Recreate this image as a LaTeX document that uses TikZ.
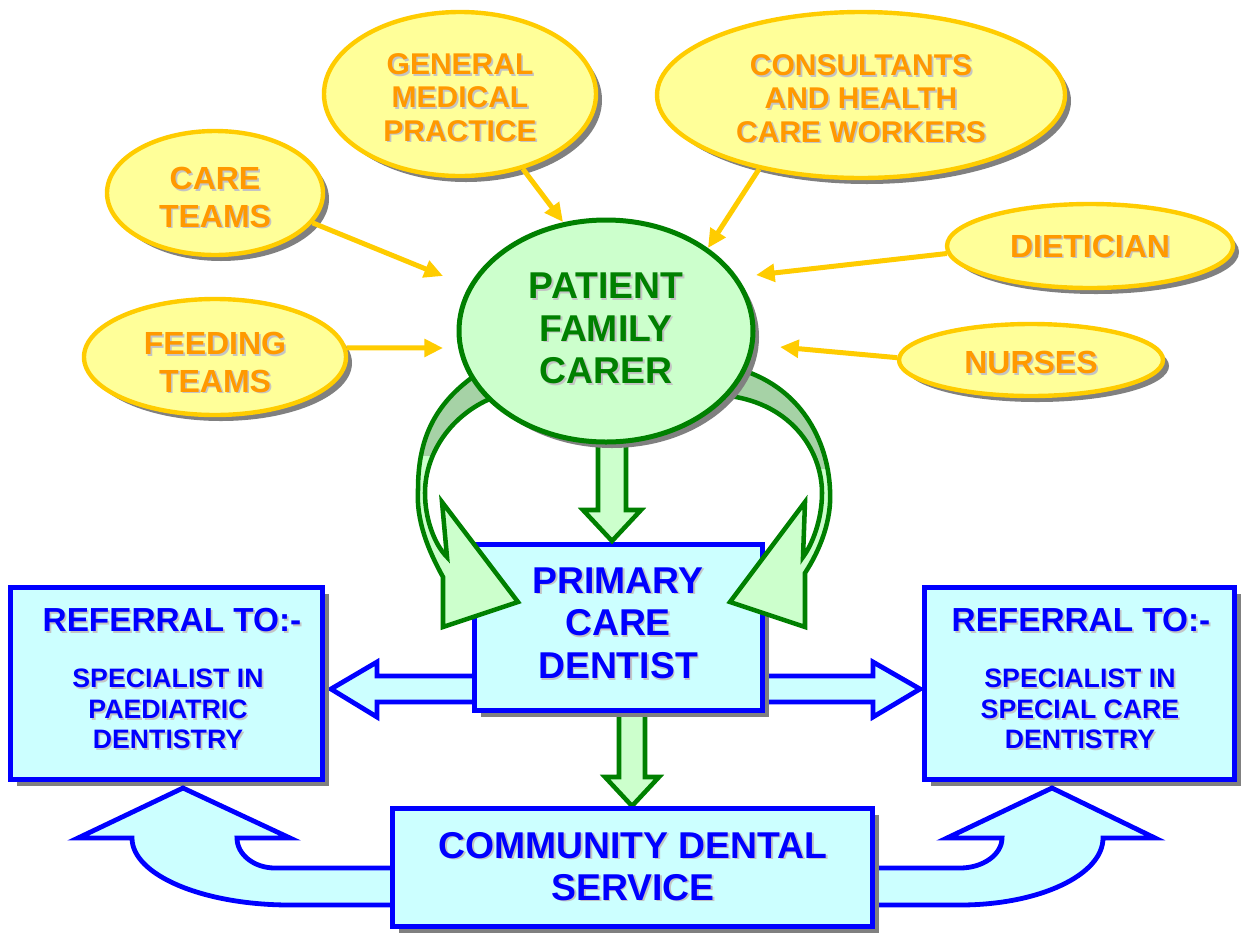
\documentclass[tikz,border=0pt]{standalone}
\usepackage{fontspec}
\setmainfont{Liberation Sans}
\usetikzlibrary{shapes.geometric,shadows,arrows.meta,calc}
\definecolor{yfill}{HTML}{FFFF99}
\definecolor{yline}{HTML}{FFCC00}
\definecolor{otext}{HTML}{FF9900}
\definecolor{gfill}{HTML}{CCFFCC}
\definecolor{gline}{HTML}{008000}
\definecolor{gdark}{HTML}{A6D2A6}
\definecolor{bfill}{HTML}{CCFFFF}
\definecolor{bline}{HTML}{0000FF}
\definecolor{shgray}{HTML}{808080}
\definecolor{tshadow}{HTML}{C4C4C4}
\newcommand{\tsh}[1]{\leavevmode\rlap{\kern1.3pt\raisebox{-1.3pt}{\textcolor{tshadow}{#1}}}#1}
\newcommand{\leftbandpath}{(442,502) -- (518,602) -- (443,627) -- (443,577)
  .. controls (428,550) and (416,520) .. (418,490)
  .. controls (418,445) and (430,405) .. (480,372)
  -- (500,395)
  .. controls (455,410) and (425,450) .. (425,493)
  .. controls (425,520) and (435,545) .. (447,557) -- cycle}
\newcommand{\rightbandpath}{(805,502) -- (730,602) -- (805,627) -- (805,573)
  .. controls (820,550) and (832,520) .. (830,490)
  .. controls (828,440) and (800,385) .. (735,368)
  -- (720,395)
  .. controls (790,400) and (822,450) .. (822,493)
  .. controls (822,520) and (812,545) .. (803,557) -- cycle}
\begin{document}
\begin{tikzpicture}[x=0.75pt,y=-0.75pt,
  every node/.append style={text depth=0pt},
  dshadow/.style={general shadow={fill=shgray, shadow xshift=4.5pt, shadow yshift=-4.5pt}},
  yell/.style={ellipse, draw=yline, fill=yfill, line width=3.3pt, inner sep=0pt, dshadow,
    text=otext, align=center, font=\bfseries\fontsize{24}{28}\selectfont},
  yellsmall/.style={yell, font=\bfseries\fontsize{22.5}{25}\selectfont},
  yarr/.style={draw=yline, line width=3.75pt, -{Triangle[length=14pt,width=13pt]}},
  gell/.style={ellipse, draw=gline, fill=gfill, line width=3.75pt, inner sep=0pt, dshadow,
    text=gline, align=center, font=\bfseries\fontsize{28}{32}\selectfont},
  bbox/.style={rectangle, draw=bline, fill=bfill, line width=3.75pt, inner sep=0pt, dshadow},
  btext/.style={text=bline, align=center, inner sep=0pt},
  bigtext/.style={btext, font=\bfseries\fontsize{28}{32}\selectfont},
  reftitle/.style={btext, font=\bfseries\fontsize{25}{30}\selectfont},
  refbody/.style={btext, font=\bfseries\fontsize{20}{23}\selectfont},
  barrow/.style={draw=bline, fill=bfill, line width=3.6pt, line join=miter},
  garrow/.style={draw=gline, fill=gfill, line width=3.4pt, line join=miter},
  gband/.style={draw=gline, line width=3.4pt, line join=miter}
]
\useasboundingbox (0,0) rectangle (1246,936);
\fill[white] (0,0) rectangle (1246,936);

% yellow ellipses
\node[yell, text height=51pt, minimum width=162pt, minimum height=93pt] (care) at (215,193) {\tsh{CARE}\\\tsh{TEAMS}};
\node[yell, text height=52.5pt, minimum width=196.5pt, minimum height=87pt] (feed) at (215,357) {\tsh{FEEDING}\\\tsh{TEAMS}};
\node[yellsmall, text height=70.5pt, minimum width=204pt, minimum height=123pt] (gmp) at (460,94) {\tsh{GENERAL}\\\tsh{MEDICAL}\\\tsh{PRACTICE}};
\node[yellsmall, text height=70.5pt, minimum width=306pt, minimum height=124.5pt] (cons) at (861,95) {\tsh{CONSULTANTS}\\\tsh{AND HEALTH}\\\tsh{CARE WORKERS}};
\node[yell, minimum width=214.5pt, minimum height=63pt] (diet) at (1090,246) {\tsh{DIETICIAN}};
\node[yell, text height=20.5pt, minimum width=198pt, minimum height=54pt] (nurs) at (1031,360) {\tsh{NURSES}};

% yellow arrows
\coordinate (careE) at (443,276);
\coordinate (feedE) at (443,348);
\coordinate (gmpE) at (563,222);
\coordinate (consE) at (708,248);
\coordinate (dietE) at (756,275);
\coordinate (nursE) at (780,347);
\draw[yarr] (care.-17) -- (careE);
\draw[yarr] (feed.4) -- (feedE);
\draw[yarr] (gmp.-50) -- (gmpE);
\draw[yarr] (cons.216) -- (consE);
\draw[yarr] (diet.183) -- (dietE);
\draw[yarr] (nurs.179) -- (nursE);

% hollow arrows from primary box
\draw[barrow] (480,676) -- (377,676) -- (377,662) -- (331,689) -- (377,717) -- (377,702) -- (480,702) -- cycle;
\draw[barrow] (755,676) -- (873,676) -- (873,662) -- (920,689) -- (873,717) -- (873,702) -- (755,702) -- cycle;
\draw[garrow] (619,700) -- (619,777) -- (605,777) -- (632,806) -- (659,777) -- (645,777) -- (645,700) -- cycle;

% boxes
\node[bbox, minimum width=234pt, minimum height=144pt] (lref) at (166.5,683.5) {};
\node[bbox, minimum width=232.5pt, minimum height=144pt] (rref) at (1079.5,683.5) {};
\node[bbox, minimum width=216pt, minimum height=124.5pt] (prim) at (618.5,627.5) {};
\node[bigtext] (primT) at (618,623) {\tsh{PRIMARY}\\\tsh{CARE}\\\tsh{DENTIST}};
\node[reftitle] (lrefT) at (172,620) {\tsh{REFERRAL TO:-}};
\node[refbody] (lrefB) at (168,709) {\tsh{SPECIALIST IN}\\\tsh{PAEDIATRIC}\\\tsh{DENTISTRY}};
\node[reftitle] (rrefT) at (1081,620) {\tsh{REFERRAL TO:-}};
\node[refbody] (rrefB) at (1080,709) {\tsh{SPECIALIST IN}\\\tsh{SPECIAL CARE}\\\tsh{DENTISTRY}};

% U-shaped arrows from community service
\draw[barrow] (183,788) -- (78,838) -- (132,838) .. controls (132,875) and (203,905) .. (290,905)
  -- (400,905) -- (400,868) -- (275,868) .. controls (254,868) and (237,854.5) .. (237,838)
  -- (290,838) -- cycle;
\draw[barrow] (1052,788) -- (1155,838) -- (1103,838) .. controls (1103,875) and (1039,905) .. (960,905)
  -- (865,905) -- (865,868) -- (960,868) .. controls (983,868) and (1002,854.5) .. (1002,838)
  -- (947,838) -- cycle;
\node[bbox, minimum width=360pt, minimum height=88.5pt] (comm) at (632.5,867.5) {};
\node[bigtext, font=\bfseries\fontsize{28}{31.5}\selectfont] (commT) at (633,866) {\tsh{COMMUNITY DENTAL}\\\tsh{SERVICE}};

% green arrows from patient
\draw[garrow] (598,430) -- (598,510) -- (583,510) -- (612,541) -- (641,510) -- (626,510) -- (626,430) -- cycle;
\fill[gfill] \leftbandpath;
\begin{scope}
  \clip (380,340) rectangle (530,455);
  \fill[gdark] \leftbandpath;
\end{scope}
\draw[gband] \leftbandpath;
\fill[gfill] \rightbandpath;
\begin{scope}
  \clip (700,340) rectangle (860,468);
  \fill[gdark] \rightbandpath;
\end{scope}
\draw[gband] \rightbandpath;

\node[gell, text depth=4pt, minimum width=220.5pt, minimum height=166.5pt] (pat) at (606,331) {\tsh{PATIENT}\\\tsh{FAMILY}\\\tsh{CARER}};
\end{tikzpicture}
\end{document}
